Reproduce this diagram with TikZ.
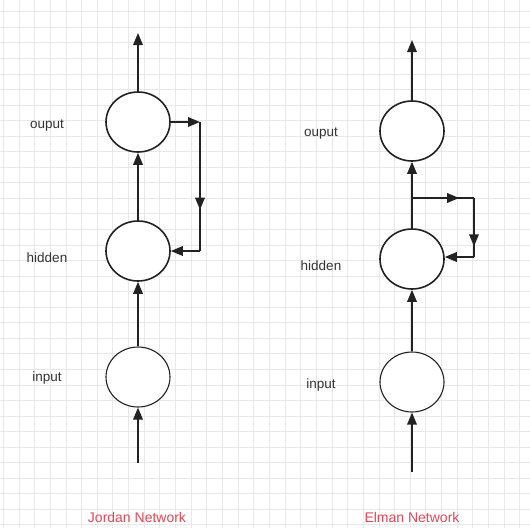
\documentclass[tikz,border=0pt]{standalone}
\usepackage{fontspec}
\setmainfont{Liberation Sans}
\usetikzlibrary{shapes.geometric,arrows.meta,decorations.markings}
\definecolor{gridc}{HTML}{E8E8E8}
\definecolor{txt}{HTML}{333333}
\definecolor{redtxt}{HTML}{E04858}
\definecolor{linec}{HTML}{222222}
\tikzset{
  neuron/.style={ellipse,draw=linec,line width=1.6pt,fill=white,minimum width=64pt,minimum height=60pt,inner sep=0pt},
  neuronthin/.style={neuron,line width=1.1pt},
  arr/.style={draw=linec,line width=1.7pt,-{Triangle[length=12pt,width=9.5pt]}},
  conn/.style={draw=linec,line width=1.7pt},
  midarrow/.style={postaction={decorate},decoration={markings,mark=at position #1 with {\arrow{Triangle[length=12pt,width=9.5pt]}}}},
  lab/.style={text=txt,font=\fontsize{13.5}{15}\selectfont,inner sep=0pt},
  title/.style={text=redtxt,font=\fontsize{14}{16}\selectfont,inner sep=0pt}
}
\begin{document}
\begin{tikzpicture}[x=1pt,y=-1pt]
\useasboundingbox (0,0) rectangle (530,528);
\fill[white] (0,0) rectangle (530,528);
\foreach \k in {0,...,33} {
  \draw[gridc,line width=0.8pt] ({3.3+15.65*\k},0) -- ({3.3+15.65*\k},528);
  \draw[gridc,line width=0.8pt] (0,{11.7+15.55*\k}) -- (530,{11.7+15.55*\k});
}
% Jordan network
\node[neuron] (jo) at (138,122) {};
\node[neuron] (jh) at (138,251) {};
\node[neuronthin] (ji) at (138,377) {};
\coordinate (jtop) at (138,33);
\coordinate (jbot) at (138,463);
\coordinate (jc1) at (200,122);
\coordinate (jc2) at (200,251);
\draw[arr] (jo.north) -- (jtop);
\draw[arr] (jh.north) -- (jo.south);
\draw[arr] (ji.north) -- (jh.south);
\draw[arr] (jbot) -- (ji.south);
\draw[arr] (jo.east) -- (jc1);
\draw[conn,midarrow=0.68] (jc1) -- (jc2);
\draw[arr] (jc2) -- (jh.east);
\node[lab] (jlo) at (47,126) {ouput};
\node[lab] (jlh) at (47,258) {hidden};
\node[lab] (jli) at (47,378) {input};
\node[title] (jt) at (137,517) {Jordan Network};
% Elman network
\node[neuron] (eo) at (412,131) {};
\node[neuron] (eh) at (412,259) {};
\node[neuronthin] (ei) at (412,382) {};
\coordinate (etop) at (412,40);
\coordinate (ebot) at (412,472);
\coordinate (ej) at (412,198);
\coordinate (ec1) at (474,198);
\coordinate (ec2) at (474,257);
\draw[arr] (eo.north) -- (etop);
\draw[arr] (eh.north) -- (eo.south);
\draw[arr] (ei.north) -- (eh.south);
\draw[arr] (ebot) -- (ei.south);
\draw[conn,midarrow=0.76] (ej) -- (ec1);
\draw[conn,midarrow=0.82] (ec1) -- (ec2);
\draw[arr] (ec2) -- (eh.east |- ec2);
\node[lab] (elo) at (321,134) {ouput};
\node[lab] (elh) at (321,266) {hidden};
\node[lab] (eli) at (321,385) {input};
\node[title] (et) at (412,517) {Elman Network};
\end{tikzpicture}
\end{document}
